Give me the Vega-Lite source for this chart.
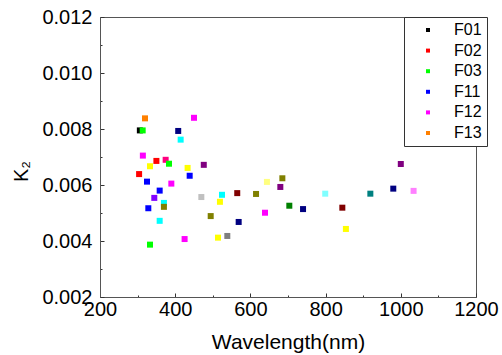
{
  "$schema": "https://vega.github.io/schema/vega-lite/v6.json",
  "width": 376,
  "height": 280,
  "autosize": {"type": "none"},
  "padding": {"left": 100, "top": 17, "right": 26, "bottom": 58},
  "background": "white",
  "config": {
    "view": {"stroke": "#555", "strokeWidth": 1},
    "font": "Liberation Sans"
  },
  "data": {
    "values": [
      {"s": "F01", "wl": 306, "k": 0.00795},
      {"s": "F13", "wl": 319.7, "k": 0.00838},
      {"s": "F12", "wl": 450, "k": 0.00840},
      {"s": "F03", "wl": 313.5, "k": 0.00795},
      {"s": "navy", "wl": 408, "k": 0.00793},
      {"s": "cyan", "wl": 414.5, "k": 0.00762},
      {"s": "F12", "wl": 314, "k": 0.00705},
      {"s": "F02", "wl": 350, "k": 0.00686},
      {"s": "pink", "wl": 374.6, "k": 0.00690},
      {"s": "F03", "wl": 383.5, "k": 0.00676},
      {"s": "yellow", "wl": 333, "k": 0.00667},
      {"s": "yellow", "wl": 433, "k": 0.00661},
      {"s": "purple", "wl": 476, "k": 0.00672},
      {"s": "F02", "wl": 304, "k": 0.00639},
      {"s": "F11", "wl": 438.5, "k": 0.00633},
      {"s": "F11", "wl": 325, "k": 0.00612},
      {"s": "F12", "wl": 389.7, "k": 0.00605},
      {"s": "F11", "wl": 358.7, "k": 0.00580},
      {"s": "violet", "wl": 344.4, "k": 0.00554},
      {"s": "cyan", "wl": 370, "k": 0.00536},
      {"s": "olive", "wl": 370, "k": 0.00522},
      {"s": "F11", "wl": 328.5, "k": 0.00517},
      {"s": "lgray", "wl": 469.5, "k": 0.00557},
      {"s": "cyan", "wl": 524.5, "k": 0.00565},
      {"s": "yellow", "wl": 519, "k": 0.00540},
      {"s": "darkred", "wl": 565, "k": 0.00571},
      {"s": "olive", "wl": 615, "k": 0.00568},
      {"s": "cyan", "wl": 358.7, "k": 0.00472},
      {"s": "olive", "wl": 494.4, "k": 0.00489},
      {"s": "navy", "wl": 568.8, "k": 0.00468},
      {"s": "F12", "wl": 425, "k": 0.00407},
      {"s": "yellow", "wl": 513.8, "k": 0.00412},
      {"s": "gray", "wl": 538.6, "k": 0.00418},
      {"s": "F03", "wl": 333, "k": 0.00387},
      {"s": "purple", "wl": 1000, "k": 0.00675},
      {"s": "lyellow", "wl": 644, "k": 0.00611},
      {"s": "olive", "wl": 685, "k": 0.00624},
      {"s": "purple", "wl": 679.6, "k": 0.00593},
      {"s": "lcyan", "wl": 799, "k": 0.00569},
      {"s": "teal", "wl": 919, "k": 0.00569},
      {"s": "navy", "wl": 980, "k": 0.00587},
      {"s": "lmagenta", "wl": 1034, "k": 0.00579},
      {"s": "dgreen", "wl": 703.5, "k": 0.00526},
      {"s": "navy", "wl": 740, "k": 0.00514},
      {"s": "F12", "wl": 638.8, "k": 0.00501},
      {"s": "darkred", "wl": 844.5, "k": 0.00519},
      {"s": "yellow", "wl": 854, "k": 0.00443}
    ]
  },
  "mark": {"type": "point", "shape": "square", "filled": true, "size": 36, "opacity": 1},
  "encoding": {
    "x": {
      "field": "wl", "type": "quantitative",
      "scale": {"domain": [200, 1200], "nice": false, "zero": false},
      "axis": {
        "title": "Wavelength(nm)",
        "values": [200, 300, 400, 500, 600, 700, 800, 900, 1000, 1100, 1200],
        "labelExpr": "datum.value % 200 == 0 ? format(datum.value, 'd') : ''",
        "grid": false,
        "domainColor": "#555",
        "tickColor": "#333",
        "tickSize": {"condition": {"test": "datum.value % 200 != 0", "value": -2}, "value": -4},
        "labelPadding": 6,
        "labelFont": "Liberation Sans",
        "labelFontSize": 20,
        "labelColor": "#000",
        "labelFlush": false,
        "labelOverlap": false,
        "titleFont": "Liberation Sans",
        "titleFontSize": 21,
        "titleFontWeight": "normal",
        "titleColor": "#000",
        "titleY": 51,
        "titleBaseline": "alphabetic"
      }
    },
    "y": {
      "field": "k", "type": "quantitative",
      "scale": {"domain": [0.002, 0.012], "nice": false, "zero": false},
      "axis": {
        "title": "K₂",
        "values": [0.002, 0.003, 0.004, 0.005, 0.006, 0.007, 0.008, 0.009, 0.010, 0.011, 0.012],
        "labelExpr": "round(datum.value * 1000) % 2 == 0 ? format(datum.value, '.3f') : ''",
        "grid": false,
        "domainColor": "#555",
        "tickColor": "#333",
        "tickSize": {"condition": {"test": "round(datum.value * 1000) % 2 == 1", "value": -2}, "value": -4},
        "labelPadding": 12,
        "labelFont": "Liberation Sans",
        "labelFontSize": 20,
        "labelColor": "#000",
        "labelFlush": false,
        "labelOverlap": false,
        "titleFont": "Liberation Sans",
        "titleFontSize": 20,
        "titleFontWeight": "normal",
        "titleColor": "#000",
        "titleX": -73,
        "titleY": 154,
        "titleBaseline": "alphabetic"
      }
    },
    "color": {
      "field": "s", "type": "nominal",
      "scale": {
        "domain": ["F01", "F02", "F03", "F11", "F12", "F13", "cyan", "yellow", "olive", "navy", "purple", "darkred", "teal", "violet", "pink", "lgray", "gray", "lyellow", "lcyan", "lmagenta", "dgreen"],
        "range": ["#000000", "#ff0000", "#00ff00", "#0000ff", "#ff00ff", "#ff8000", "#00ffff", "#ffff00", "#808000", "#000080", "#800080", "#800000", "#008080", "#8000ff", "#ff0080", "#c0c0c0", "#808080", "#ffff80", "#80ffff", "#ff80ff", "#008000"]
      },
      "legend": {
        "title": null,
        "values": ["F01", "F02", "F03", "F11", "F12", "F13"],
        "orient": "none",
        "legendX": 304,
        "legendY": 0,
        "padding": 5,
        "strokeColor": "#333",
        "fillColor": "white",
        "symbolType": "square",
        "symbolSize": 16,
        "symbolOffset": 11,
        "symbolStrokeWidth": 0,
        "labelOffset": 18,
        "labelFont": "Liberation Sans",
        "labelFontSize": 16,
        "labelColor": "#000",
        "rowPadding": 4.6
      }
    }
  }
}
